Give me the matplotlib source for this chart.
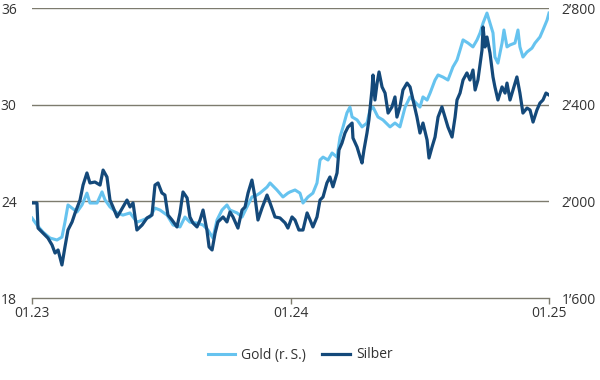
import matplotlib
matplotlib.use("Agg")
import matplotlib.pyplot as plt
from matplotlib.lines import Line2D

# Months since 01.2023
silver_t = [0, 0.23, 0.28, 0.37, 0.60, 0.74, 0.93, 1.07, 1.21, 1.39, 1.53, 1.67, 1.86, 2.00, 2.23, 2.37,
            2.55, 2.69, 2.92, 3.16, 3.30, 3.48, 3.62, 3.76, 3.95, 4.09, 4.41, 4.55, 4.69, 4.87, 5.11, 5.34,
            5.57, 5.71, 5.85, 6.03, 6.17, 6.31, 6.50, 6.73, 6.87, 7.01, 7.20, 7.33, 7.47, 7.66, 7.80, 7.94,
            8.12, 8.22, 8.36, 8.50, 8.63, 8.87, 9.05, 9.19, 9.33, 9.56, 9.75, 9.89, 10.03, 10.21, 10.35,
            10.49, 10.68, 10.91, 11.05, 11.28, 11.51, 11.75, 11.88, 12.07, 12.21, 12.39, 12.58, 12.77,
            12.91, 13.04, 13.23, 13.37, 13.51, 13.69, 13.83, 13.97, 14.16, 14.25, 14.39, 14.53, 14.67,
            14.86, 14.90, 15.09, 15.23, 15.32, 15.41, 15.55, 15.64, 15.78, 15.83, 15.92, 16.02, 16.11,
            16.25, 16.39, 16.53, 16.71, 16.85, 16.94, 17.08, 17.22, 17.41, 17.55, 17.69, 17.87, 18.01,
            18.15, 18.34, 18.43, 18.57, 18.71, 18.85, 19.03, 19.17, 19.31, 19.50, 19.64, 19.73, 19.87,
            20.01, 20.19, 20.33, 20.47, 20.57, 20.70, 20.89, 20.94, 21.03, 21.12, 21.26, 21.40, 21.49,
            21.63, 21.82, 21.96, 22.05, 22.19, 22.33, 22.51, 22.65, 22.79, 22.98, 23.12, 23.26, 23.44,
            23.58, 23.72, 23.86, 24.00]
silver = [23.90, 23.90, 22.34, 22.22, 21.91, 21.72, 21.29, 20.79, 20.98, 20.05, 21.17, 22.22, 22.72, 23.28,
          24.08, 25.01, 25.76, 25.14, 25.20, 25.01, 25.94, 25.51, 24.08, 23.65, 23.03, 23.34, 24.08, 23.65,
          23.90, 22.22, 22.53, 22.97, 23.15, 25.01, 25.14, 24.52, 24.39, 23.15, 22.84, 22.41, 23.28, 24.58,
          24.21, 23.03, 22.66, 22.41, 22.84, 23.46, 22.22, 21.17, 20.98, 22.03, 22.72, 23.03, 22.72, 23.34,
          23.03, 22.34, 23.46, 23.65, 24.52, 25.32, 24.27, 22.84, 23.59, 24.39, 23.90, 23.03, 22.97, 22.66,
          22.34, 23.03, 22.84, 22.22, 22.22, 23.28, 22.84, 22.41, 23.03, 24.08, 24.27, 25.14, 25.51, 24.90,
          25.76, 27.19, 27.62, 28.24, 28.61, 28.86, 27.93, 27.37, 26.75, 26.38, 27.19, 28.24, 29.05, 30.91,
          31.84, 30.29, 31.34, 32.03, 31.10, 30.72, 29.48, 29.86, 30.48, 29.23, 29.86, 30.91, 31.34, 31.10,
          30.29, 29.23, 28.24, 28.86, 27.81, 26.69, 27.37, 27.99, 29.23, 29.86, 29.23, 28.61, 27.99, 29.23,
          30.29, 30.72, 31.53, 31.97, 31.53, 32.15, 30.91, 31.53, 33.39, 34.82, 33.58, 34.20, 33.21, 31.72,
          31.10, 30.29, 31.10, 30.72, 31.34, 30.29, 30.91, 31.72, 30.72, 29.48, 29.79, 29.67, 28.92, 29.67,
          30.10, 30.29, 30.72, 30.60]

gold_t = [0, 0.23, 0.51, 0.84, 1.16, 1.39, 1.53, 1.67, 1.86, 2.09, 2.32, 2.55, 2.69, 3.02, 3.25, 3.39,
          3.62, 3.95, 4.22, 4.55, 4.87, 5.15, 5.48, 5.71, 5.94, 6.27, 6.55, 6.87, 7.10, 7.33, 7.66, 7.94,
          8.17, 8.40, 8.59, 8.82, 9.05, 9.19, 9.52, 9.75, 9.98, 10.21, 10.44, 10.58, 10.91, 11.05, 11.37,
          11.65, 11.88, 11.98, 12.21, 12.44, 12.58, 12.81, 13.04, 13.23, 13.37, 13.51, 13.74, 13.93, 14.16,
          14.30, 14.44, 14.62, 14.76, 14.86, 15.09, 15.32, 15.55, 15.69, 15.83, 16.06, 16.29, 16.62, 16.85,
          17.08, 17.32, 17.55, 17.78, 18.01, 18.15, 18.34, 18.48, 18.71, 18.85, 19.08, 19.31, 19.54, 19.73,
          19.87, 20.01, 20.24, 20.47, 20.66, 20.80, 20.94, 21.12, 21.26, 21.40, 21.49, 21.63, 21.82, 21.91,
          22.05, 22.19, 22.42, 22.56, 22.65, 22.79, 22.98, 23.21, 23.35, 23.58, 23.72, 23.91, 24.00]
gold = [1931, 1902, 1873, 1848, 1840, 1852, 1914, 1985, 1972, 1956, 1985, 2034, 1993, 1993, 2039, 2006,
        1977, 1952, 1943, 1952, 1914, 1923, 1935, 1972, 1964, 1943, 1902, 1894, 1935, 1914, 1910, 1902,
        1881, 1848, 1923, 1964, 1985, 1964, 1952, 1935, 1977, 2018, 2026, 2034, 2059, 2076, 2047, 2018,
        2034, 2039, 2047, 2034, 1993, 2018, 2034, 2076, 2171, 2183, 2171, 2200, 2183, 2266, 2308, 2366,
        2390, 2349, 2337, 2308, 2324, 2378, 2390, 2349, 2337, 2308, 2324, 2308, 2390, 2432, 2411, 2390,
        2432, 2419, 2448, 2502, 2523, 2514, 2502, 2556, 2585, 2626, 2668, 2655, 2639, 2668, 2697, 2738,
        2779, 2738, 2697, 2597, 2572, 2655, 2709, 2639, 2647, 2655, 2709, 2639, 2597, 2618, 2634, 2655,
        2680, 2709, 2750, 2779]

left_ticks = [18, 24, 30, 36]
right_ticks = [1600, 2000, 2400, 2800]
right_labels = ["1\u2019600", "2\u2019000", "2\u2019400", "2\u2019800"]
x_ticks = [0, 12, 24]
x_labels = ["01.23", "01.24", "01.25"]

plt.rcParams['font.family'] = ['Open Sans', 'DejaVu Sans']

gold_c = "#66c3ef"
silver_c = "#14497a"
grid_c = "#7d7b6e"
text_c = "#333333"

fig = plt.figure(figsize=(6, 3.8), dpi=100)
ax = fig.add_axes([32/600, 1-298/380, 517/600, 290/380])
ax2 = ax.twinx()

ax2.plot(gold_t, gold, color=gold_c, lw=2.2, solid_joinstyle='round')
ax.plot(silver_t, silver, color=silver_c, lw=2.3, solid_joinstyle='round')

ax.set_zorder(ax2.get_zorder() + 1)
ax.patch.set_visible(False)

ax.set_xlim(0, 24)
ax.set_ylim(18, 36)
ax2.set_ylim(1600, 2800)

for a in (ax, ax2):
    for s in a.spines.values():
        s.set_visible(False)

ax.spines['bottom'].set_visible(True)
ax.spines['bottom'].set_color(grid_c)
ax.spines['bottom'].set_linewidth(1)

for v in left_ticks[1:]:
    ax2.axhline(1600 + (v - 18) * (1200 / 18), color=grid_c, lw=1, zorder=0)

ax.set_yticks(left_ticks)
ax.set_yticklabels([str(v) for v in left_ticks])
ax2.set_yticks(right_ticks)
ax2.set_yticklabels(right_labels)
ax.set_xticks(x_ticks)
ax.set_xticklabels(x_labels)

ax.tick_params(axis='y', length=0, pad=11, labelsize=10, colors=text_c)
ax2.tick_params(axis='y', length=0, pad=9, labelsize=10, colors=text_c)
ax.tick_params(axis='x', length=4, width=1, color=grid_c, pad=2, labelsize=10, labelcolor=text_c,
               direction='out')

handles = [Line2D([0], [0], color=gold_c, lw=2.2), Line2D([0], [0], color=silver_c, lw=2.3)]
fig.legend(handles, ["Gold (r.\u2009S.)", "Silber"], loc='center', bbox_to_anchor=(0.5, 1-355/380),
           ncol=2, frameon=False, fontsize=10, handlelength=2.0, handletextpad=0.4, columnspacing=1.2,
           labelcolor=text_c)

fig.savefig("out.png", dpi=100)
